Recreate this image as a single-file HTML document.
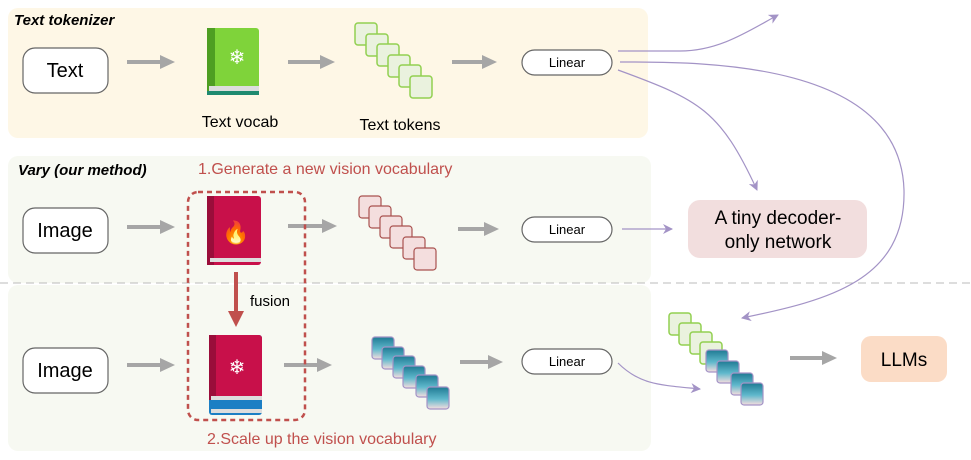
<!DOCTYPE html>
<html><head><style>body{margin:0;background:#fff}svg{display:block;font-family:"Liberation Sans",sans-serif}</style></head><body>
<svg width="971" height="460" viewBox="0 0 971 460" xmlns="http://www.w3.org/2000/svg">
<defs>
<marker id="ga" markerWidth="15" markerHeight="14" refX="3" refY="7" orient="auto" markerUnits="userSpaceOnUse"><path d="M0,0L15,7L0,14z" fill="#a6a6a6"/></marker>
<marker id="pa" markerWidth="10" markerHeight="10" refX="9" refY="5" orient="auto" markerUnits="userSpaceOnUse"><path d="M0,0L10,5L0,10L3,5z" fill="#a393c6"/></marker>
<marker id="ra" markerWidth="18" markerHeight="16" refX="3" refY="8" orient="auto" markerUnits="userSpaceOnUse"><path d="M0,0L16,8L0,16z" fill="#c0504d"/></marker>
<linearGradient id="bt" x1="0" y1="0" x2="0" y2="1"><stop offset="0" stop-color="#1f7a93"/><stop offset="0.55" stop-color="#5fb8cc"/><stop offset="1" stop-color="#f6dede"/></linearGradient>
<g id="gtok"><rect width="22" height="22" rx="3" fill="#eaf2de" stroke="#92d050" stroke-width="1.5"/></g>
<g id="ptok"><rect width="22" height="22" rx="3" fill="#f4dede" stroke="#a9524f" stroke-width="1.2"/></g>
<g id="btok"><rect width="22" height="22" rx="3" fill="url(#bt)" stroke="#a393c6" stroke-width="1.2"/></g>
</defs>
<rect x="8" y="8" width="640" height="130" rx="10" fill="#fef7e6"/>
<rect x="8" y="156" width="643" height="127" rx="10" fill="#f7f9f2"/>
<rect x="8" y="285" width="643" height="166" rx="10" fill="#f7f9f2"/>
<line x1="0" y1="283" x2="971" y2="283" stroke="#bbb" stroke-dasharray="8,5"/>
<text x="14" y="25" font-size="15" font-weight="bold" font-style="italic">Text tokenizer</text>
<text x="18" y="175" font-size="15" font-weight="bold" font-style="italic">Vary (our method)</text>
<text x="198" y="174" font-size="16" fill="#c0504d">1.Generate a new vision vocabulary</text>
<text x="207" y="444" font-size="16" fill="#c0504d">2.Scale up the vision vocabulary</text>
<g fill="#fff" stroke="#666" stroke-width="1.2">
<rect x="23" y="48" width="85" height="45" rx="12"/><rect x="23" y="208" width="85" height="45" rx="12"/><rect x="23" y="348" width="85" height="45" rx="12"/>
<rect x="522" y="50" width="90" height="25" rx="12.5"/><rect x="522" y="217" width="90" height="25" rx="12.5"/><rect x="522" y="349" width="90" height="25" rx="12.5"/>
</g>
<g font-size="20" text-anchor="middle"><text x="65" y="77">Text</text><text x="65" y="237">Image</text><text x="65" y="377">Image</text></g>
<g font-size="13" text-anchor="middle"><text x="567" y="67">Linear</text><text x="567" y="234">Linear</text><text x="567" y="366">Linear</text></g>
<g stroke="#a6a6a6" stroke-width="4" marker-end="url(#ga)">
<line x1="127" y1="62" x2="163" y2="62"/><line x1="288" y1="62" x2="323" y2="62"/><line x1="452" y1="62" x2="485" y2="62"/>
<line x1="127" y1="227" x2="163" y2="227"/><line x1="288" y1="226" x2="325" y2="226"/><line x1="458" y1="229" x2="487" y2="229"/>
<line x1="127" y1="365" x2="163" y2="365"/><line x1="284" y1="365" x2="320" y2="365"/><line x1="460" y1="362" x2="491" y2="362"/>
<line x1="790" y1="358" x2="825" y2="358"/>
</g>
<!-- green book -->
<rect x="207" y="28" width="52" height="65" rx="3" fill="#7fd33a"/><rect x="207" y="28" width="8" height="65" fill="#4e9e22"/>
<rect x="209" y="86" width="50" height="5" fill="#ddd"/><rect x="207" y="91" width="52" height="4" fill="#1f8a70"/>
<text x="237" y="64" font-size="20" fill="#fff" text-anchor="middle">❄</text>
<text x="240" y="127" font-size="16" text-anchor="middle">Text vocab</text>
<g><use href="#gtok" x="355" y="23"/><use href="#gtok" x="366" y="34"/><use href="#gtok" x="377" y="44"/><use href="#gtok" x="388" y="55"/><use href="#gtok" x="399" y="65"/><use href="#gtok" x="410" y="76"/></g>
<text x="400" y="130" font-size="16" text-anchor="middle">Text tokens</text>
<!-- red book 1 -->
<rect x="207" y="196" width="54" height="69" rx="3" fill="#c8104a"/><rect x="207" y="196" width="7" height="69" fill="#9a0d3a"/>
<rect x="210" y="258" width="51" height="4" fill="#ddd"/>
<text x="236" y="240" font-size="22" fill="#f5a623" text-anchor="middle">🔥</text>
<g><use href="#ptok" x="359" y="196"/><use href="#ptok" x="369" y="206"/><use href="#ptok" x="380" y="216"/><use href="#ptok" x="390" y="226"/><use href="#ptok" x="403" y="237"/><use href="#ptok" x="414" y="248"/></g>
<!-- dashed red box -->
<rect x="188" y="192" width="117" height="228" rx="10" fill="none" stroke="#c0504d" stroke-width="2.5" stroke-dasharray="5,4"/>
<line x1="236" y1="272" x2="236" y2="314" stroke="#c0504d" stroke-width="4" marker-end="url(#ra)"/>
<text x="250" y="306" font-size="15">fusion</text>
<!-- book 2 -->
<rect x="209" y="335" width="53" height="80" rx="3" fill="#1c7fc4"/>
<rect x="209" y="335" width="53" height="65" rx="3" fill="#c8104a"/><rect x="209" y="335" width="7" height="65" fill="#9a0d3a"/>
<rect x="211" y="396" width="51" height="4" fill="#ddd"/><rect x="211" y="409" width="51" height="4" fill="#ddd"/>
<text x="237" y="374" font-size="20" fill="#fff" text-anchor="middle">❄</text>
<g><use href="#btok" x="372" y="337"/><use href="#btok" x="382" y="347"/><use href="#btok" x="393" y="356"/><use href="#btok" x="403" y="366"/><use href="#btok" x="416" y="375"/><use href="#btok" x="427" y="387"/></g>
<!-- bottom combined tokens -->
<g><use href="#gtok" x="669" y="313"/><use href="#gtok" x="679" y="323"/><use href="#gtok" x="690" y="332"/><use href="#gtok" x="700" y="342"/><use href="#btok" x="706" y="350"/><use href="#btok" x="717" y="361"/><use href="#btok" x="731" y="373"/><use href="#btok" x="741" y="383"/></g>
<!-- boxes -->
<rect x="688" y="200" width="179" height="58" rx="12" fill="#f2dede"/>
<text x="778" y="224" font-size="19" text-anchor="middle">A tiny decoder-</text>
<text x="778" y="248" font-size="19" text-anchor="middle">only network</text>
<rect x="861" y="336" width="86" height="46" rx="10" fill="#fbdcc6"/>
<text x="904" y="366" font-size="19" text-anchor="middle">LLMs</text>
<!-- purple curves -->
<g fill="none" stroke="#a393c6" stroke-width="1.2" marker-end="url(#pa)">
<path d="M618,51 L680,51 C720,51 750,30 778,15"/>
<path d="M620,62 C700,62 900,60 904,190 C906,280 830,300 742,318"/>
<path d="M618,70 C700,100 720,110 757,190"/>
<line x1="622" y1="229" x2="672" y2="229"/>
<path d="M618,363 C640,385 660,385 700,389"/>
</g>
</svg>
</body></html>
